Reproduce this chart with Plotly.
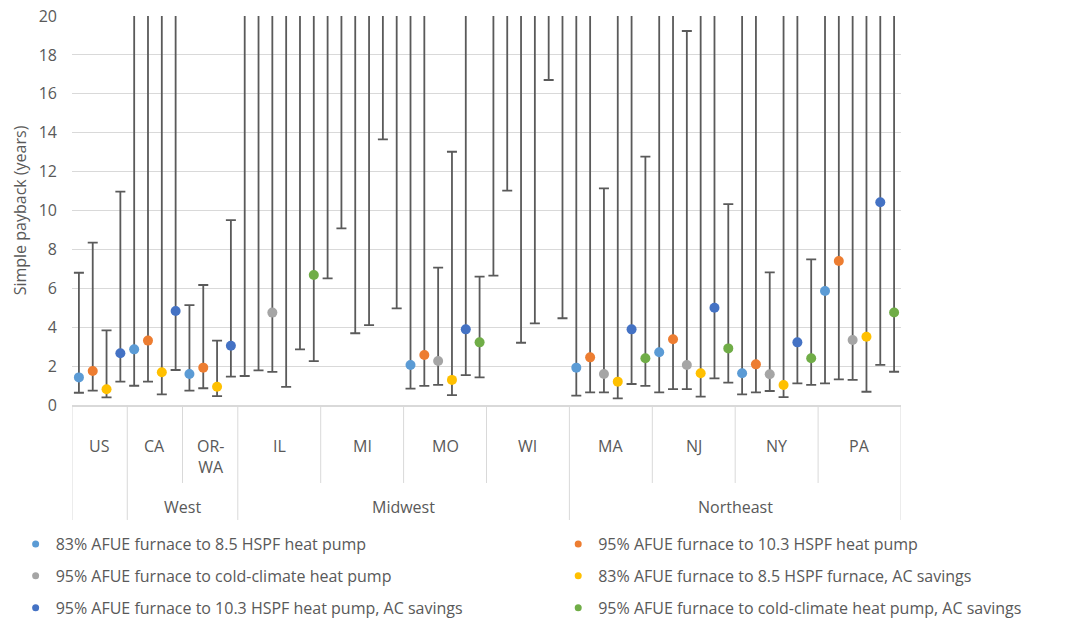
import plotly.graph_objects as go

# ---------------- data ----------------
states = ["US", "CA", "OR-WA", "IL", "MI", "MO", "WI", "MA", "NJ", "NY", "PA"]
state_labels = ["US", "CA", "OR-<br>WA", "IL", "MI", "MO", "WI", "MA", "NJ", "NY", "PA"]
regions = ["", "West", "West", "Midwest", "Midwest", "Midwest", "Midwest",
           "Northeast", "Northeast", "Northeast", "Northeast"]

series_names = [
    "83% AFUE furnace to 8.5 HSPF heat pump",
    "95% AFUE furnace to 10.3 HSPF heat pump",
    "95% AFUE furnace to cold-climate heat pump",
    "83% AFUE furnace to 8.5 HSPF furnace, AC savings",
    "95% AFUE furnace to 10.3 HSPF heat pump, AC savings",
    "95% AFUE furnace to cold-climate heat pump, AC savings",
]
colors = ["#5B9BD5", "#ED7D31", "#A5A5A5", "#FFC000", "#4472C4", "#70AD47"]

# central estimate, low and high of range (values above 20 lie off the chart)
s1_val = [1.42, 2.86, 1.59, 25, 25, 2.06, 25, 1.92, 2.71, 1.63, 5.86]
s1_lo = [0.63, 0.99, 0.74, 1.49, 6.51, 0.84, 6.65, 0.48, 0.65, 0.55, 1.11]
s1_hi = [6.80, 30, 5.14, 30, 30, 30, 30, 30, 30, 30, 30]

s2_val = [1.75, 3.31, 1.92, 25, 25, 2.57, 25, 2.45, 3.38, 2.09, 7.40]
s2_lo = [0.74, 1.20, 0.86, 1.78, 9.08, 0.98, 11.02, 0.65, 0.82, 0.65, 1.32]
s2_hi = [8.35, 30, 6.17, 30, 30, 30, 30, 30, 30, 30, 30]

s3_val = [None, None, None, 4.75, 25, 2.26, 25, 1.59, 2.06, 1.58, 3.34]
s3_lo = [None, None, None, 1.70, 3.69, 1.03, 3.20, 0.65, 0.82, 0.72, 1.29]
s3_hi = [None, None, None, 30, 30, 7.06, 30, 11.14, 19.23, 6.82, 30]

s4_val = [0.81, 1.68, 0.94, 25, 25, 1.29, 25, 1.20, 1.63, 1.03, 3.51]
s4_lo = [0.39, 0.55, 0.46, 0.93, 4.11, 0.51, 4.20, 0.34, 0.43, 0.40, 0.68]
s4_hi = [3.84, 30, 3.31, 30, 30, 13.02, 30, 30, 30, 30, 30]

s5_val = [2.66, 4.83, 3.05, 25, 25, 3.89, 25, 3.89, 5.00, 3.22, 10.42]
s5_lo = [1.20, 1.80, 1.46, 2.86, 13.66, 1.54, 16.71, 1.08, 1.37, 1.11, 2.06]
s5_hi = [10.97, 30, 9.51, 30, 30, 30, 30, 30, 30, 30, 30]

s6_val = [None, None, None, 6.68, 25, 3.22, 25, 2.40, 2.91, 2.40, 4.76]
s6_lo = [None, None, None, 2.26, 4.97, 1.42, 4.46, 0.98, 1.15, 1.03, 1.71]
s6_hi = [None, None, None, 30, 30, 6.60, 30, 12.77, 10.33, 7.49, 30]

y_ticks = [0, 2, 4, 6, 8, 10, 12, 14, 16, 18, 20]

vals = [s1_val, s2_val, s3_val, s4_val, s5_val, s6_val]
los = [s1_lo, s2_lo, s3_lo, s4_lo, s5_lo, s6_lo]
his = [s1_hi, s2_hi, s3_hi, s4_hi, s5_hi, s6_hi]

# ---------------- category slots ----------------
slot_x = [[None] * len(states) for _ in series_names]
state_start, state_end = [], []
pos = 0
for i in range(len(states)):
    state_start.append(pos)
    for k in range(len(series_names)):
        if vals[k][i] is not None:
            slot_x[k][i] = pos + 0.5
            pos += 1
    state_end.append(pos)
n_slots = pos

TEXT = "#595959"
GRID = "#D9D9D9"
FONT = "Open Sans"

fig = go.Figure()
for k, name in enumerate(series_names):
    xs, ys, up, dn = [], [], [], []
    for i in range(len(states)):
        if vals[k][i] is None:
            continue
        xs.append(slot_x[k][i])
        ys.append(vals[k][i])
        up.append(his[k][i] - vals[k][i])
        dn.append(vals[k][i] - los[k][i])
    fig.add_trace(go.Scatter(
        x=xs, y=ys, mode="markers", name=name, showlegend=False,
        marker=dict(color=colors[k], size=10),
        error_y=dict(type="data", symmetric=False, array=up, arrayminus=dn,
                     color="#5a5a5a", thickness=1.8, width=5),
        hoverinfo="y",
    ))

# legend entries (two columns)
for k, name in enumerate(series_names):
    fig.add_trace(go.Scatter(
        x=[None], y=[None], mode="markers", name=name,
        marker=dict(color=colors[k], size=7),
        legend="legend" if k % 2 == 0 else "legend2",
        legendgroup="g%d" % k,
    ))

# ---------------- category table below the axis ----------------
shapes = []
annotations = []
row1_bottom = -0.2005
row2_bottom = -0.2956
region_edges = {0}
for i in range(len(states)):
    if i == 0 or regions[i] != regions[i - 1]:
        region_edges.add(state_start[i])
region_edges.add(n_slots)
edges = sorted(set(state_start + [n_slots]))
for e in edges:
    y1 = row2_bottom if e in region_edges else row1_bottom
    shapes.append(dict(type="line", xref="x", yref="paper", x0=e, x1=e,
                       y0=0, y1=y1, line=dict(color=GRID, width=1)))

for i, lab in enumerate(state_labels):
    annotations.append(dict(
        x=(state_start[i] + state_end[i]) / 2, y=-0.072, xref="x", yref="paper",
        text=lab, showarrow=False, yanchor="top",
        font=dict(family=FONT, size=16, color=TEXT)))

seen = []
for r in regions:
    if r and r not in seen:
        seen.append(r)
for r in seen:
    idx = [i for i, g in enumerate(regions) if g == r]
    annotations.append(dict(
        x=(state_start[idx[0]] + state_end[idx[-1]]) / 2, y=-0.262,
        xref="x", yref="paper", text=r, showarrow=False, yanchor="middle",
        font=dict(family=FONT, size=16, color=TEXT)))

legend_common = dict(orientation="v", yanchor="top", xanchor="left",
                     font=dict(family=FONT, size=16, color=TEXT),
                     tracegroupgap=8, bgcolor="rgba(0,0,0,0)")

fig.update_layout(
    width=1069, height=634,
    margin=dict(l=72, r=168, t=16, b=229, autoexpand=False),
    paper_bgcolor="white", plot_bgcolor="white",
    font=dict(family=FONT, size=16, color=TEXT),
    xaxis=dict(range=[0, n_slots], showticklabels=False, showgrid=False,
               zeroline=False, showline=True, linecolor=GRID, linewidth=1.5,
               fixedrange=True, automargin=False),
    yaxis=dict(range=[0, 20], tickvals=y_ticks, showgrid=True, gridcolor=GRID,
               gridwidth=1, zeroline=False, showline=False, automargin=False,
               ticklabelstandoff=14, ticklabeloverflow="allow",
               tickfont=dict(family=FONT, size=16, color=TEXT),
               title=dict(text="Simple payback (years)", standoff=8,
                          font=dict(family=FONT, size=16, color=TEXT))),
    legend=dict(x=-0.068, y=-0.314, **legend_common),
    legend2=dict(x=0.5865, y=-0.314, **legend_common),
    shapes=shapes, annotations=annotations,
)

# remove the default page margin so the figure fills the window exactly
fig.write_html("out.html", config={"displayModeBar": False},
               post_script="document.body.style.margin='0px';")
